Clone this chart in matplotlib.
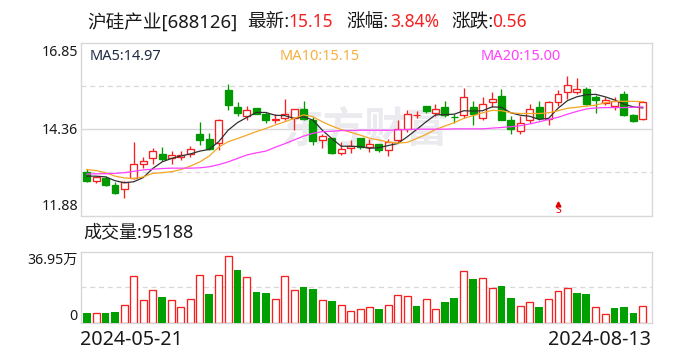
import matplotlib
matplotlib.use('Agg')
import matplotlib.pyplot as plt

plt.rcParams['font.family'] = ['Noto Sans', 'Noto Sans CJK SC', 'DejaVu Sans']

opens = [13.14, 12.88, 12.97, 12.75, 12.63, 12.95, 13.35, 13.52, 13.66, 13.52,
         13.55, 13.64, 14.22, 14.08, 13.95, 15.48, 15.00, 14.75, 14.97, 14.79,
         14.62, 14.69, 14.67, 14.93, 14.62, 14.06, 14.10, 13.68, 13.83, 14.12,
         13.86, 13.93, 13.77, 14.06, 14.36, 14.76, 15.02, 14.83, 15.00, 14.72,
         14.77, 15.00, 14.69, 15.15, 15.31, 14.62, 14.30, 14.62, 15.00, 14.64,
         15.15, 15.44, 15.44, 15.51, 15.28, 15.12, 15.03, 15.37, 14.76, 14.66]
closes = [12.88, 12.99, 12.75, 12.53, 12.83, 13.35, 13.46, 13.72, 13.49, 13.63,
          13.63, 13.78, 14.05, 13.79, 14.62, 15.06, 14.83, 14.90, 14.79, 14.62,
          14.65, 14.81, 14.93, 14.64, 14.03, 14.15, 13.67, 13.78, 13.87, 13.84,
          13.92, 13.77, 14.00, 14.36, 14.81, 14.77, 14.88, 14.93, 14.77, 14.70,
          15.27, 14.80, 15.07, 15.22, 14.62, 14.36, 14.53, 14.93, 14.68, 15.13,
          15.36, 15.62, 15.50, 15.09, 15.20, 15.19, 15.16, 14.77, 14.60, 15.15]
highs = [13.23, 13.01, 13.01, 12.85, 12.88, 13.99, 13.55, 13.81, 13.84, 13.72,
         13.72, 13.87, 14.56, 14.26, 14.64, 15.66, 15.14, 15.02, 14.98, 14.86,
         14.79, 15.22, 14.94, 15.17, 14.70, 14.21, 14.11, 14.00, 14.05, 14.12,
         14.09, 13.93, 14.09, 14.62, 14.91, 14.88, 15.04, 15.08, 15.17, 14.79,
         15.54, 15.17, 15.27, 15.43, 15.51, 14.74, 14.74, 15.08, 15.17, 15.16,
         15.48, 15.89, 15.83, 15.56, 15.34, 15.29, 15.29, 15.45, 14.79, 15.17]
lows = [12.85, 12.80, 12.73, 12.50, 12.39, 12.92, 13.25, 13.36, 13.44, 13.36,
        13.47, 13.57, 13.90, 13.76, 13.76, 14.91, 14.74, 14.62, 14.79, 14.55,
        14.53, 14.62, 14.33, 14.62, 13.90, 13.83, 13.65, 13.62, 13.68, 13.78,
        13.71, 13.71, 13.59, 13.98, 14.29, 14.67, 14.83, 14.74, 14.72, 14.55,
        14.67, 14.48, 14.62, 15.00, 14.62, 14.22, 14.22, 14.55, 14.62, 14.48,
        15.02, 15.22, 15.37, 15.05, 14.83, 15.05, 14.92, 14.74, 14.57, 14.62]
ma5 = [13.01, 13.01, 12.99, 12.88, 12.82, 12.85, 12.97, 13.23, 13.42, 13.52,
       13.59, 13.65, 13.73, 13.78, 14.00, 14.33, 14.55, 14.70, 14.84, 14.84,
       14.76, 14.75, 14.67, 14.72, 14.62, 14.33, 14.09, 13.87, 13.87, 13.86,
       13.81, 13.83, 13.89, 13.95, 14.14, 14.35, 14.57, 14.77, 14.78, 14.79,
       14.89, 14.88, 14.89, 15.00, 14.99, 14.83, 14.76, 14.73, 14.64, 14.67,
       14.96, 15.18, 15.29, 15.35, 15.36, 15.29, 15.20, 15.08, 15.00, 14.97]
ma10 = [13.20, 13.17, 13.11, 13.01, 12.96, 12.94, 12.99, 13.09, 13.11, 13.14,
        13.20, 13.30, 13.42, 13.59, 13.84, 14.00, 14.09, 14.19, 14.29, 14.38,
        14.48, 14.57, 14.67, 14.77, 14.72, 14.57, 14.45, 14.35, 14.27, 14.19,
        14.10, 14.05, 13.99, 13.96, 13.98, 14.09, 14.21, 14.35, 14.45, 14.55,
        14.67, 14.75, 14.83, 14.90, 14.89, 14.83, 14.81, 14.81, 14.81, 14.83,
        14.89, 14.96, 14.99, 15.02, 15.05, 15.12, 15.16, 15.16, 15.16, 15.15]
ma20 = [13.07, 13.08, 13.08, 13.09, 13.11, 13.15, 13.19, 13.21, 13.23, 13.24,
        13.24, 13.24, 13.25, 13.28, 13.34, 13.42, 13.52, 13.62, 13.68, 13.73,
        13.84, 13.94, 14.05, 14.16, 14.24, 14.29, 14.30, 14.32, 14.32, 14.33,
        14.33, 14.33, 14.33, 14.34, 14.35, 14.36, 14.36, 14.36, 14.36, 14.37,
        14.37, 14.37, 14.37, 14.39, 14.41, 14.43, 14.46, 14.51, 14.57, 14.64,
        14.70, 14.79, 14.87, 14.94, 14.97, 14.98, 14.98, 14.98, 14.99, 15.00]
volumes = [5.03, 5.38, 5.03, 5.55, 9.54, 24.11, 12.14, 16.83, 13.36, 12.14,
           8.50, 12.66, 24.63, 14.92, 24.63, 34.69, 27.41, 23.59, 15.96, 15.44,
           12.66, 24.11, 16.83, 18.56, 17.52, 12.14, 11.28, 9.54, 6.42, 7.46,
           8.50, 7.11, 9.54, 14.22, 13.70, 8.67, 12.66, 7.46, 10.76, 12.84,
           26.71, 22.72, 23.07, 17.87, 19.08, 12.84, 9.02, 11.10, 8.15, 12.66,
           16.31, 17.87, 15.44, 14.92, 8.50, 4.86, 7.63, 8.15, 5.03, 9.02]
vol_up = [0, 1, 0, 0, 1, 1, 1, 1, 0, 1,
          1, 1, 1, 0, 1, 1, 0, 1, 0, 0,
          1, 1, 1, 0, 0, 1, 0, 1, 1, 1,
          1, 0, 1, 1, 1, 0, 1, 1, 0, 0,
          1, 0, 1, 1, 0, 0, 1, 1, 0, 1,
          1, 1, 0, 0, 1, 1, 0, 0, 0, 1]
price_ticks = [16.85, 14.36, 11.88]
dashed_prices = [15.605, 13.12]
vol_max = 36.95

RED = '#f62020'
GREEN = '#009a00'
GRID = '#d8d8dc'
TEXT = '#1a1a1a'
W, H = 688, 360


def add_axes(left, top, right, bottom):
    return fig.add_axes([left / W, 1 - bottom / H, (right - left) / W, (bottom - top) / H])


def put(x, y, s, **kw):
    kw.setdefault('color', TEXT)
    kw.setdefault('fontsize', 12.5)
    kw.setdefault('va', 'center')
    fig.text(x / W, 1 - y / H, s, **kw)


fig = plt.figure(figsize=(W / 100, H / 100), dpi=100)
ax = add_axes(80.5, 42.5, 651.5, 215.5)
ax2 = add_axes(80.5, 251.5, 651.5, 323)
xs = list(range(len(opens)))

for a in (ax, ax2):
    a.set_xlim(-0.66, 59.92)
    a.set_xticks([])
    a.set_yticks([])
    for s in a.spines.values():
        s.set_color(GRID)
        s.set_linewidth(1)

# price panel
ax.set_ylim(price_ticks[2], price_ticks[0])
ax.axhline(price_ticks[1], color=GRID, lw=1, zorder=1)
for p in dashed_prices:
    ax.axhline(p, color=GRID, lw=0.9, ls=(0, (4, 3)), zorder=1)
ax.text(29.5, 14.33, '东方财富', color='#ebebef', fontsize=30, fontweight='bold',
        ha='center', va='center', zorder=1)

for i in xs:
    up = closes[i] >= opens[i]
    c = RED if up else GREEN
    ax.vlines(i, lows[i], highs[i], color=c, lw=0.95, zorder=2)
    lo = min(opens[i], closes[i])
    hi = max(opens[i], closes[i])
    ax.bar(i, hi - lo, bottom=lo, width=0.74, facecolor='white' if up else c,
           edgecolor=c, linewidth=0.95, zorder=3)

ax.plot(xs, ma5, color='#303030', lw=0.9, zorder=4)
ax.plot(xs, ma10, color='#f5a623', lw=0.9, zorder=4)
ax.plot(xs, ma20, color='#ff40ff', lw=0.9, zorder=4)
ax.plot([50], [12.2], marker='^', color='#e00000', ms=3.5, zorder=4)
ax.text(50, 12.03, 'S', color='#e00000', fontsize=7.5, ha='center', va='center', zorder=4)

# volume panel
ax2.set_ylim(0, vol_max)
ax2.axhline(vol_max / 2, color=GRID, lw=0.9, ls=(0, (4, 3)), zorder=1)
for i in xs:
    c = RED if vol_up[i] else GREEN
    if vol_up[i]:
        ax2.bar(i, volumes[i], width=0.74, facecolor='white', edgecolor=c, linewidth=0.95, zorder=3)
    else:
        ax2.bar(i, volumes[i], width=0.82, color='#00a000', zorder=3)

# title row
put(87, 22, '沪硅产业[688126]', fontsize=13.4)
put(247, 22, '最新:', fontsize=13.4)
put(288, 22, '15.15', color=RED)
put(346, 22, '涨幅:', fontsize=13.4)
put(390, 22, '3.84%', color=RED)
put(451, 22, '涨跌:', fontsize=13.4)
put(492, 22, '0.56', color=RED)

put(90, 57, 'MA5:14.97', fontsize=10.5, color='#1f2d45')
put(280, 57, 'MA10:15.15', fontsize=10.5, color='#f5b041')
put(481, 57, 'MA20:15.00', fontsize=10.5, color='#ff40ff')

put(78, 52, f'{price_ticks[0]:.2f}', ha='right', fontsize=10.2)
put(78, 130, f'{price_ticks[1]:.2f}', ha='right', fontsize=10.2)
put(78, 206, f'{price_ticks[2]:.2f}', ha='right', fontsize=10.2)

put(83, 232, '成交量:95188', fontsize=13)
put(78, 260, '36.95万', ha='right', fontsize=10.2)
put(78, 316, '0', ha='right', fontsize=10.2)
put(80, 340, '2024-05-21', fontsize=14.2)
put(651, 340, '2024-08-13', ha='right', fontsize=14.2)

fig.savefig('out.png', dpi=100)
